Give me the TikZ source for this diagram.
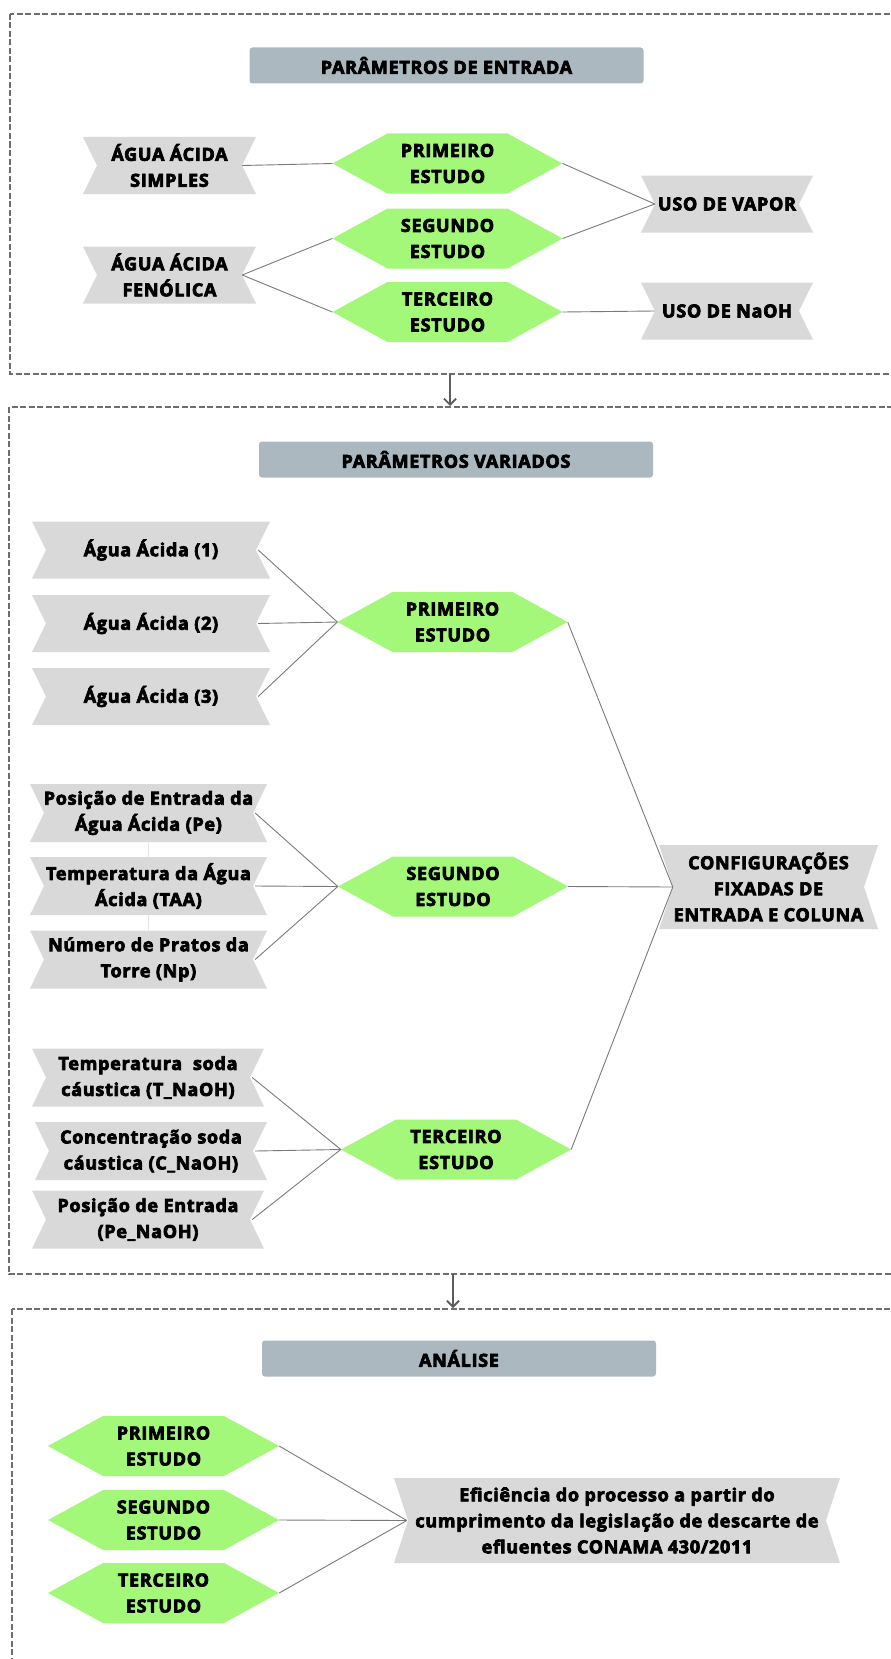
\documentclass[tikz,border=0pt]{standalone}
\usepackage{fontspec}
\setmainfont{Open Sans}[BoldFeatures={FakeBold=4,LetterSpace=4}]
\usetikzlibrary{arrows.meta}
\definecolor{hexgreen}{HTML}{A3F779}
\definecolor{ribgray}{HTML}{D9D9D9}
\definecolor{titlegray}{HTML}{ACB8C0}
\definecolor{linegray}{HTML}{7A7A7A}
\definecolor{dashgray}{HTML}{6E6E6E}
\definecolor{faintgray}{HTML}{E4E4E4}
\tikzset{
  txt/.style={font=\fontsize{18}{26}\selectfont\bfseries, align=center, inner sep=0pt, text=black},
  ribbon/.style={txt, rectangle, minimum height=57pt,
    path picture={\fill[ribgray] (path picture bounding box.north west) -- (path picture bounding box.north east) -- ([xshift=-14pt]path picture bounding box.east) -- (path picture bounding box.south east) -- (path picture bounding box.south west) -- ([xshift=14pt]path picture bounding box.west) -- cycle;}},
  hexa/.style={txt, rectangle, minimum width=230pt, minimum height=60pt,
    path picture={\fill[hexgreen] (path picture bounding box.west) -- ([xshift=55pt]path picture bounding box.north west) -- ([xshift=-55pt]path picture bounding box.north east) -- (path picture bounding box.east) -- ([xshift=-55pt]path picture bounding box.south east) -- ([xshift=55pt]path picture bounding box.south west) -- cycle;}},
  titlebox/.style={txt, font=\fontsize{18}{22}\selectfont\bfseries, fill=titlegray, rounded corners=3pt, minimum width=394pt, minimum height=36pt},
  conn/.style={draw=linegray, line width=0.9pt},
  faint/.style={draw=faintgray, line width=0.9pt},
  panel/.style={draw=dashgray, dash pattern=on 6pt off 2.5pt, line width=1.6pt},
  flow/.style={draw=dashgray!85!black, line width=1.8pt, -{Straight Barb[length=6pt,width=12pt]}},
}
\begin{document}
\begin{tikzpicture}[x=1pt,y=-1pt]
\useasboundingbox (0,0) rectangle (891,1659);
\clip (0,0) rectangle (891,1659);
% panels
\draw[panel] (10,14) rectangle (910,374);
\draw[panel] (9,407) rectangle (910,1274);
\draw[panel] (12,1309) rectangle (910,1700);
\coordinate (a1s) at (450,374);
\coordinate (a1e) at (450,406);
\coordinate (a2s) at (453,1274);
\coordinate (a2e) at (453,1308);
\draw[flow] (a1s) -- (a1e);
\draw[flow] (a2s) -- (a2e);

% ---------- panel 1
\node[titlebox] (t1) at (446.5,65.5) {PARÂMETROS DE ENTRADA};
\node[ribbon, minimum width=173pt] (s1) at (169.5,165.5) {ÁGUA ÁCIDA\\SIMPLES};
\node[ribbon, minimum width=173pt] (s2) at (169.5,275) {ÁGUA ÁCIDA\\FENÓLICA};
\node[hexa] (h1) at (447.5,163.5) {PRIMEIRO\\ESTUDO};
\node[hexa] (h2) at (447.5,238.5) {SEGUNDO\\ESTUDO};
\node[hexa] (h3) at (447.5,312) {TERCEIRO\\ESTUDO};
\node[ribbon, minimum width=172pt] (u1) at (727,204) {USO DE VAPOR};
\node[ribbon, minimum width=172pt] (u2) at (727,311) {USO DE NaOH};
\draw[conn] ([xshift=-14pt]s1.east) -- (h1.west);
\draw[conn] ([xshift=-14pt]s2.east) -- (h2.west);
\draw[conn] ([xshift=-14pt]s2.east) -- (h3.west);
\draw[conn] (h1.east) -- ([xshift=14pt]u1.west);
\draw[conn] (h2.east) -- ([xshift=14pt]u1.west);
\draw[conn] (h3.east) -- ([xshift=14pt]u2.west);

% ---------- panel 2
\node[titlebox] (t2) at (456,459.5) {PARÂMETROS VARIADOS};
\node[ribbon, minimum width=238pt] (a1) at (151,550) {Água Ácida (1)};
\node[ribbon, minimum width=238pt] (a2) at (151,623.5) {Água Ácida (2)};
\node[ribbon, minimum width=238pt] (a3) at (151,696.5) {Água Ácida (3)};
\node[hexa] (hp) at (452.5,622) {PRIMEIRO\\ESTUDO};
\node[ribbon, minimum width=237pt, minimum height=58pt] (b1) at (148.5,813) {Posição de Entrada da\\Água Ácida (Pe)};
\node[ribbon, minimum width=237pt, minimum height=58pt] (b2) at (148.5,886) {Temperatura da Água\\Ácida (TAA)};
\node[ribbon, minimum width=237pt, minimum height=58pt] (b3) at (148.5,959.5) {Número de Pratos da\\Torre (Np)};
\node[hexa] (hs) at (453,886.5) {SEGUNDO\\ESTUDO};
\node[ribbon, minimum width=232pt, minimum height=58pt] (c1) at (148,1077.5) {Temperatura\ \ soda\\cáustica (T\_NaOH)};
\node[ribbon, minimum width=232pt, minimum height=58pt] (c2) at (151,1151) {Concentração soda\\cáustica (C\_NaOH)};
\node[ribbon, minimum width=232pt, minimum height=58pt] (c3) at (148,1219.5) {Posição de Entrada\\(Pe\_NaOH)};
\node[hexa] (ht) at (456,1149.5) {TERCEIRO\\ESTUDO};
\node[ribbon, minimum width=219pt, minimum height=84pt] (cfg) at (768.5,887) {CONFIGURAÇÕES\\FIXADAS DE\\ENTRADA E COLUNA};
\foreach \n in {a1,a2,a3} \draw[conn] ([xshift=-12pt]\n.east) -- (hp.west);
\foreach \n in {b1,b2,b3} \draw[conn] ([xshift=-12pt]\n.east) -- (hs.west);
\foreach \n in {c1,c2,c3} \draw[conn] ([xshift=-12pt]\n.east) -- (ht.west);
\draw[faint] (b1.south) -- (b2.north);
\draw[faint] (b2.south) -- (b3.north);
\foreach \n in {hp,hs,ht} \draw[conn] (\n.east) -- ([xshift=14pt]cfg.west);

% ---------- panel 3
\node[titlebox] (t3) at (459,1358.5) {ANÁLISE};
\node[hexa, minimum width=231pt] (g1) at (163.5,1446) {PRIMEIRO\\ESTUDO};
\node[hexa, minimum width=231pt] (g2) at (163.5,1520) {SEGUNDO\\ESTUDO};
\node[hexa, minimum width=231pt] (g3) at (163.5,1593) {TERCEIRO\\ESTUDO};
\node[ribbon, minimum width=446pt, minimum height=85pt] (ef) at (617,1520.5) {Eficiência do processo a partir do\\cumprimento da legislação de descarte de\\efluentes CONAMA 430/2011};
\foreach \n in {g1,g2,g3} \draw[conn] (\n.east) -- ([xshift=13pt]ef.west);
\end{tikzpicture}
\end{document}
